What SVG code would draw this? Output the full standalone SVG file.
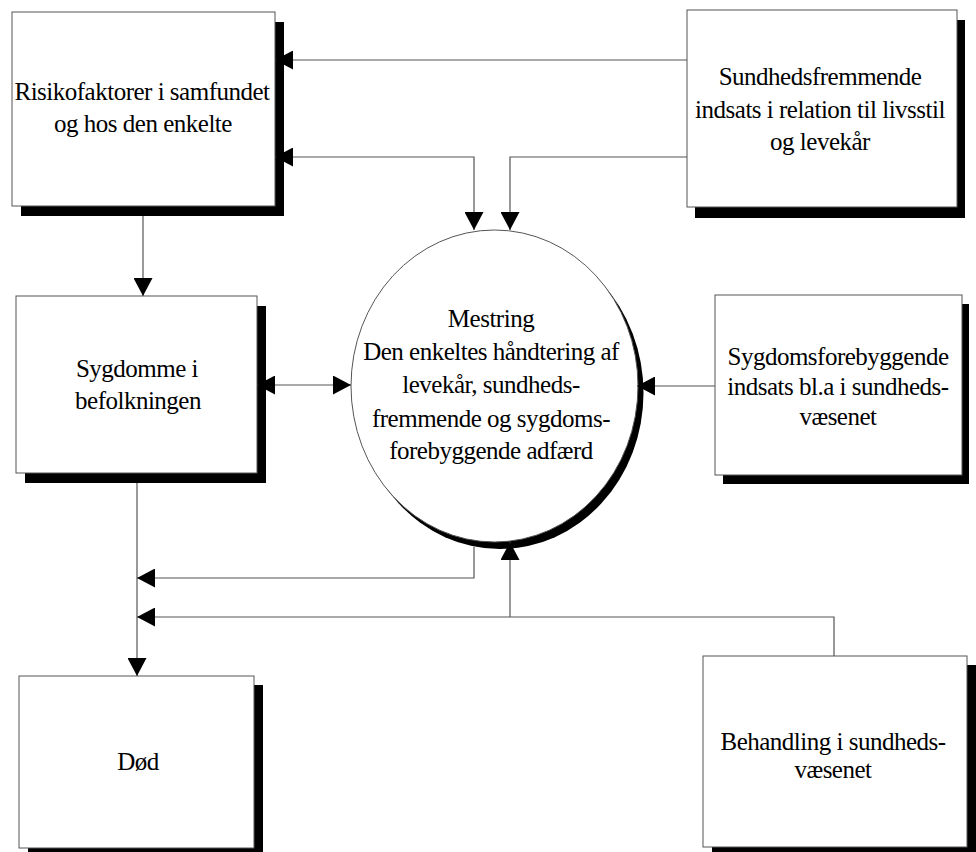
<svg xmlns="http://www.w3.org/2000/svg" width="976" height="852" viewBox="0 0 976 852">
<style>
.box{fill:#fff;stroke:#555;stroke-width:1}
.sh{fill:#000}
.t{font-family:"Liberation Serif","Times New Roman",serif;font-size:25px;letter-spacing:-0.5px;fill:#000;text-anchor:middle}
.c{fill:none;stroke:#555;stroke-width:1.2}
</style>
<defs>
<marker id="ah" markerUnits="userSpaceOnUse" markerWidth="19" markerHeight="19" refX="18" refY="9.5" orient="auto-start-reverse">
<path d="M0,0 L18,9.5 L0,19 z" fill="#000"/>
</marker>
</defs>
<rect width="976" height="852" fill="#fff"/>
<g id="risikofaktorer">
<rect class="sh" x="21" y="22" width="263" height="194"/>
<rect class="box" x="12" y="12" width="263" height="194"/>
<text class="t" x="142" y="100">Risikofaktorer i samfundet</text>
<text class="t" x="143" y="132">og hos den enkelte</text>
</g>
<g id="sundhedsfremmende">
<rect class="sh" x="695" y="20" width="270" height="198"/>
<rect class="box" x="687" y="10" width="270" height="197"/>
<text class="t" x="820" y="85">Sundhedsfremmende</text>
<text class="t" x="820" y="118">indsats i relation til livsstil</text>
<text class="t" x="820" y="150">og levekår</text>
</g>
<g id="sygdomme">
<rect class="sh" x="25" y="306" width="241" height="177"/>
<rect class="box" x="16" y="296" width="241" height="177"/>
<text class="t" x="137" y="377">Sygdomme i</text>
<text class="t" x="138" y="409">befolkningen</text>
</g>
<g id="mestring">
<ellipse class="sh" cx="500" cy="393" rx="143.5" ry="156"/>
<ellipse class="box" cx="494.5" cy="386" rx="143.5" ry="156"/>
<text class="t" x="491" y="327">Mestring</text>
<text class="t" x="491" y="360">Den enkeltes håndtering af</text>
<text class="t" x="491" y="393">levekår, sundheds-</text>
<text class="t" x="491" y="427">fremmende og sygdoms-</text>
<text class="t" x="491" y="459">forebyggende adfærd</text>
</g>
<g id="sygdomsforebyggende">
<rect class="sh" x="723" y="304" width="246" height="180"/>
<rect class="box" x="715" y="295" width="247" height="180"/>
<text class="t" x="838" y="365">Sygdomsforebyggende</text>
<text class="t" x="838" y="395">indsats bl.a i sundheds-</text>
<text class="t" x="838" y="425">væsenet</text>
</g>
<g id="doed">
<rect class="sh" x="28" y="685" width="235" height="172"/>
<rect class="box" x="19" y="676" width="235" height="172"/>
<text class="t" x="138" y="770">Død</text>
</g>
<g id="behandling">
<rect class="sh" x="712" y="665" width="264" height="192"/>
<rect class="box" x="703" y="656" width="264" height="191"/>
<text class="t" x="833" y="750">Behandling i sundheds-</text>
<text class="t" x="833" y="778">væsenet</text>
</g>
<g id="connectors">
<path class="c" d="M687,60 H275" marker-end="url(#ah)"/>
<path class="c" d="M275,157 H474 V230" marker-start="url(#ah)" marker-end="url(#ah)"/>
<path class="c" d="M687,157 H510 V230" marker-end="url(#ah)"/>
<path class="c" d="M143,216 V296" marker-end="url(#ah)"/>
<path class="c" d="M257,385 H351" marker-start="url(#ah)" marker-end="url(#ah)"/>
<path class="c" d="M715,386 H637" marker-end="url(#ah)"/>
<path class="c" d="M137,483 V676" marker-end="url(#ah)"/>
<path class="c" d="M474,547 V578 H137" marker-end="url(#ah)"/>
<path class="c" d="M834,656 V617 H137" marker-end="url(#ah)"/>
<path class="c" d="M510,617 V542" marker-end="url(#ah)"/>
</g>
</svg>
